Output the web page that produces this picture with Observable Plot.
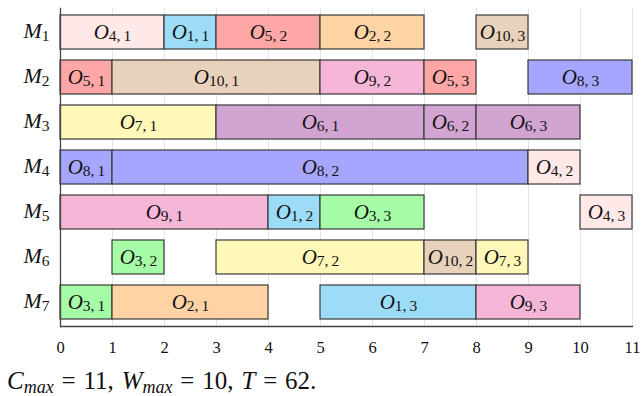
<!DOCTYPE html>
<html>
<head>
<meta charset="utf-8">
<script src="https://cdn.jsdelivr.net/npm/d3@7"></script>
<script src="https://cdn.jsdelivr.net/npm/@observablehq/plot@0.6"></script>
<style>
  body { margin: 0; background: #fff; }
  #chart svg { display: block; }
  #chart svg text { font-family: "Liberation Serif", "Times New Roman", serif !important; }
  #caption { font-family: "Liberation Serif", "Times New Roman", serif; font-size: 25px; color: #111; margin: 6px 0 0 7px; line-height: 26px; white-space: nowrap; word-spacing: 1.6px; }
  #caption sub { font-size: 18px; vertical-align: -4px; line-height: 0; word-spacing: 0; }
</style>
</head>
<body>
<div id="chart"></div>
<div id="caption"><i>C</i><sub><i>max</i></sub> = 11, <i>W</i><sub><i>max</i></sub> = 10, <i>T</i> = 62.</div>
<script>
// Machines (rows)
const machines = ["M1", "M2", "M3", "M4", "M5", "M6", "M7"];
// Operations: machine, job, operation index, start, end
const opMachine = ["M1","M1","M1","M1","M1", "M2","M2","M2","M2","M2", "M3","M3","M3","M3", "M4","M4","M4", "M5","M5","M5","M5", "M6","M6","M6","M6", "M7","M7","M7","M7"];
const opJob     = [4,1,5,2,10, 5,10,9,5,8, 7,6,6,6, 8,8,4, 9,1,3,4, 3,7,10,7, 3,2,1,9];
const opIndex   = [1,1,2,2,3,  1,1,2,3,3, 1,1,2,3, 1,2,2, 1,2,3,3, 2,2,2,3, 1,1,3,3];
const opStart   = [0,2,3,5,8,  0,1,5,7,9, 0,3,7,8, 0,1,9, 0,4,5,10, 1,3,7,8, 0,1,5,8];
const opEnd     = [2,3,5,7,9,  1,5,7,8,11, 3,7,8,10, 1,9,10, 4,5,7,11, 2,7,8,9, 1,4,8,10];
// Job colours (job 1..10)
const jobs = [1,2,3,4,5,6,7,8,9,10];
const jobColors = ["#9ddcf7","#ffd3a4","#a6fba6","#ffe8e8","#ffa6a6","#d1a4d1","#fff8b8","#a6a6ff","#f5b6d8","#e9d2bb"];
const xTicks = [0,1,2,3,4,5,6,7,8,9,10,11];

const ops = opMachine.map((m, i) => ({
  machine: m, job: opJob[i], idx: opIndex[i], start: opStart[i], end: opEnd[i],
  label: `O${opJob[i]},${opIndex[i]}`
}));

const plot = Plot.plot({
  width: 642,
  height: 362,
  marginLeft: 60,
  marginRight: 10,
  marginTop: 8,
  marginBottom: 36,
  style: { fontFamily: "'Liberation Serif', 'Times New Roman', serif", fontSize: "16.5px", color: "#111", background: "#fff" },
  x: { domain: [0, 11], ticks: xTicks, tickSize: 0, tickPadding: 15, label: null },
  y: { domain: machines, paddingInner: 0.25, paddingOuter: 0.14, tickSize: 0, tickPadding: 11, label: null },
  color: { domain: jobs, range: jobColors },
  marks: [
    Plot.ruleX(xTicks, { stroke: "#e4e4e4", strokeWidth: 1 }),
    Plot.barX(ops, { x1: "start", x2: "end", y: "machine", fill: "job", stroke: "#3a3a3a", strokeWidth: 1.2 }),
    Plot.text(ops, { x: d => (d.start + d.end) / 2, y: "machine", text: "label", fill: "#111", fontSize: 20 }),
    Plot.frame({ anchor: "left", stroke: "#444", strokeWidth: 1.3 }),
    Plot.frame({ anchor: "bottom", stroke: "#444", strokeWidth: 1.3 })
  ]
});

document.getElementById("chart").appendChild(plot);

// Typeset labels: italic letter with upright subscript
d3.select(plot).selectAll("text").each(function () {
  const el = d3.select(this);
  const t = el.text().trim();
  let m;
  if ((m = t.match(/^O(\d+),(\d+)$/))) {
    el.text("");
    el.append("tspan").attr("font-style", "italic").attr("font-size", 21).text("O");
    el.append("tspan").attr("font-size", 15.5).attr("dy", "2").text(`${m[1]},\u2009${m[2]}`);
  } else if ((m = t.match(/^M(\d+)$/))) {
    el.text("");
    el.append("tspan").attr("font-style", "italic").attr("font-size", 22).text("M");
    el.append("tspan").attr("font-size", 15.5).attr("dy", "3").text(m[1]);
  }
});
</script>
</body>
</html>
